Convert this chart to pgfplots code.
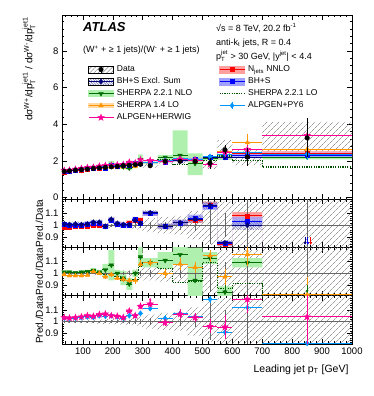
\documentclass[border=0pt]{standalone}
\usepackage{fontspec}
\setmainfont{Liberation Sans}
\usepackage{amsmath}
\usepackage{pgfplots}
\usepackage{pgfplotstable}
\pgfplotsset{compat=1.18}
\usepgfplotslibrary{fillbetween}
\usetikzlibrary{patterns.meta,arrows.meta}

\definecolor{nnlored}{RGB}{255,0,0}
\definecolor{nnloband}{RGB}{255,160,160}
\definecolor{bhsblue}{RGB}{0,0,255}
\definecolor{bhsband}{RGB}{160,160,255}
\definecolor{exclnavy}{RGB}{0,0,120}
\definecolor{nlogreen}{RGB}{0,110,0}
\definecolor{nloband}{RGB}{175,240,175}
\definecolor{sorange}{RGB}{255,150,0}
\definecolor{lodotted}{RGB}{0,80,0}
\definecolor{ahpink}{RGB}{255,0,150}
\definecolor{apblue}{RGB}{0,150,255}

\newcommand{\sups}[1]{\ensuremath{^{\text{#1}}}}
\newcommand{\subs}[1]{\ensuremath{_{\text{#1}}}}
\newcommand{\supsub}[2]{\ensuremath{^{\text{#1}}_{\text{#2}}}}
\newcommand{\ls}{\rule[-2.2pt]{0pt}{8.5pt}}

% filled five-point star
\pgfdeclareplotmark{fstar}{%
  \pgfpathmoveto{\pgfpointpolar{90}{1.3\pgfplotmarksize}}%
  \pgfpathlineto{\pgfpointpolar{126}{0.55\pgfplotmarksize}}%
  \pgfpathlineto{\pgfpointpolar{162}{1.3\pgfplotmarksize}}%
  \pgfpathlineto{\pgfpointpolar{198}{0.55\pgfplotmarksize}}%
  \pgfpathlineto{\pgfpointpolar{234}{1.3\pgfplotmarksize}}%
  \pgfpathlineto{\pgfpointpolar{270}{0.55\pgfplotmarksize}}%
  \pgfpathlineto{\pgfpointpolar{306}{1.3\pgfplotmarksize}}%
  \pgfpathlineto{\pgfpointpolar{342}{0.55\pgfplotmarksize}}%
  \pgfpathlineto{\pgfpointpolar{18}{1.3\pgfplotmarksize}}%
  \pgfpathlineto{\pgfpointpolar{54}{0.55\pgfplotmarksize}}%
  \pgfpathclose\pgfusepathqfillstroke}

% main panel: W+/W- ratio, last row only closes the step bands
\pgfplotstableread{
x xl exm exp d ds dlo dhi nn nnl nnh bh bhl bhh ex nl nll nlh s14 s14e s21 ah ahe ap ape
37.5 30 7.5 7.5 1.42 0.010 1.403 1.437 1.40 1.38 1.42 1.43 1.40 1.46 1.43 1.43 1.41 1.46 1.41 0.014 1.43 1.47 0.011 1.46 0.011
55 45 10 10 1.45 0.010 1.433 1.467 1.43 1.41 1.45 1.45 1.42 1.48 1.46 1.46 1.44 1.49 1.42 0.015 1.46 1.49 0.012 1.49 0.012
75 65 10 10 1.49 0.010 1.472 1.508 1.48 1.45 1.50 1.49 1.46 1.52 1.50 1.50 1.48 1.52 1.46 0.015 1.50 1.54 0.012 1.53 0.012
95 85 10 10 1.52 0.010 1.500 1.540 1.50 1.48 1.53 1.52 1.49 1.55 1.53 1.54 1.51 1.56 1.49 0.015 1.53 1.58 0.015 1.57 0.015
115 105 10 10 1.55 0.012 1.528 1.572 1.54 1.52 1.57 1.57 1.54 1.60 1.57 1.57 1.55 1.60 1.53 0.016 1.56 1.63 0.016 1.61 0.016
135 125 10 10 1.58 0.012 1.556 1.604 1.58 1.56 1.60 1.61 1.58 1.64 1.62 1.62 1.59 1.65 1.60 0.024 1.59 1.65 0.019 1.64 0.019
155 145 10 10 1.61 0.014 1.583 1.637 1.61 1.59 1.63 1.64 1.61 1.67 1.65 1.63 1.59 1.66 1.61 0.024 1.61 1.71 0.019 1.69 0.019
175 165 10 10 1.64 0.016 1.607 1.673 1.63 1.61 1.66 1.62 1.59 1.65 1.62 1.69 1.61 1.77 1.59 0.025 1.62 1.75 0.025 1.71 0.025
195 185 10 10 1.67 0.020 1.633 1.707 1.74 1.70 1.77 1.74 1.71 1.77 1.75 1.79 1.57 2.00 1.65 0.033 1.65 1.75 0.025 1.75 0.025
215 205 10 10 1.70 0.022 1.657 1.743 1.72 1.68 1.75 1.72 1.69 1.75 1.73 1.70 1.65 1.75 1.63 0.034 1.65 1.78 0.026 1.77 0.026
235 225 10 10 1.74 0.025 1.691 1.789 1.74 1.71 1.78 1.74 1.71 1.78 1.75 1.67 1.57 1.77 1.65 0.035 1.64 1.80 0.035 1.79 0.035
255 245 10 10 1.76 0.030 1.707 1.813 1.80 1.76 1.83 1.76 1.72 1.80 1.77 1.60 1.51 1.69 1.65 0.035 1.65 1.92 0.035 1.85 0.035
275 265 10 10 1.79 0.035 1.727 1.853 1.86 1.83 1.90 1.88 1.84 1.92 1.86 1.79 1.74 1.84 1.68 0.054 1.70 1.88 0.036 1.88 0.036
292.5 285 7.5 7.5 1.81 0.040 1.729 1.891 1.88 1.84 1.93 1.85 1.81 1.90 1.84 2.06 1.92 2.35 1.95 0.054 1.92 2.05 0.036 1.94 0.036
325 300 25 25 1.73 0.050 1.626 1.834 1.90 1.87 1.94 1.90 1.87 1.94 1.91 1.89 1.82 1.95 1.89 0.052 1.89 2.02 0.052 1.92 0.035
375 350 25 25 1.97 0.060 1.832 2.108 1.95 1.91 1.99 1.95 1.91 1.99 1.95 2.19 2.05 2.32 1.97 0.079 2.05 1.95 0.059 2.02 0.059
425 400 25 25 1.97 0.080 1.812 2.128 2.01 1.97 2.05 2.01 1.96 2.06 2.01 2.29 2.13 3.66 2.13 0.099 1.81 2.09 0.079 2.11 0.059
475 450 25 25 1.97 0.100 1.734 2.206 2.05 2.01 2.09 2.09 2.03 2.15 2.07 1.85 1.22 2.40 2.07 0.099 1.83 2.04 0.079 2.05 0.059
525 500 25 25 1.87 0.300 1.552 2.188 2.19 2.13 2.24 2.17 2.11 2.23 2.19 2.11 2.02 2.21 2.15 0.094 2.04 1.80 0.110 2.23 0.056
575 550 25 25 2.60 0.250 2.080 3.120 2.18 2.13 2.24 2.20 2.15 2.25 2.21 2.18 2.05 2.31 2.52 0.180 2.26 2.48 0.260 2.37 0.100
650 600 50 50 2.20 0.500 1.760 2.640 2.38 2.31 2.44 2.27 2.18 2.36 2.20 2.40 2.31 2.49 2.99 0.450 2.00 2.62 0.260 2.46 0.110
850 700 150 150 3.25 1.060 2.372 4.128 2.41 2.28 2.54 2.31 2.18 2.44 2.34 2.21 2.08 2.34 2.63 0.490 1.66 3.38 0.810 2.37 0.330
1000 1000 0 0 3.25 0 2.372 4.128 2.41 2.28 2.54 2.31 2.18 2.44 2.34 2.21 2.08 2.34 2.63 0 1.66 3.38 0 2.37 0
}\tmain

% ratio panels: prediction / data
\pgfplotstableread{
x xl exm exp one drs dl dh nn nnl nnh bh bhl bhh ex exl exh nl nll nlh s14 s14e s21 ah ahe ap ape
37.5 30 7.5 7.5 1 0.007 0.988 1.012 0.985 0.970 1.000 1.005 0.985 1.025 1.010 0.990 1.030 1.010 0.995 1.025 0.990 0.010 1.005 1.034 0.008 1.030 0.008
55 45 10 10 1 0.007 0.988 1.012 0.985 0.970 1.000 1.000 0.980 1.020 1.005 0.985 1.025 1.010 0.995 1.025 0.980 0.010 1.005 1.030 0.008 1.027 0.008
75 65 10 10 1 0.007 0.988 1.012 0.990 0.975 1.005 1.000 0.980 1.020 1.010 0.990 1.030 1.005 0.990 1.020 0.980 0.010 1.005 1.034 0.008 1.030 0.008
95 85 10 10 1 0.007 0.987 1.013 0.990 0.975 1.005 1.000 0.980 1.020 1.005 0.985 1.025 1.010 0.995 1.025 0.980 0.010 1.005 1.040 0.010 1.034 0.010
115 105 10 10 1 0.008 0.986 1.014 0.995 0.980 1.010 1.010 0.990 1.030 1.010 0.990 1.030 1.015 1.000 1.030 0.985 0.010 1.005 1.050 0.010 1.040 0.010
135 125 10 10 1 0.008 0.985 1.015 1.000 0.985 1.015 1.020 1.000 1.040 1.025 1.005 1.045 1.025 1.005 1.045 1.015 0.015 1.005 1.045 0.012 1.035 0.012
155 145 10 10 1 0.009 0.983 1.017 1.000 0.985 1.015 1.020 1.000 1.040 1.025 1.005 1.045 1.010 0.990 1.030 1.000 0.015 1.000 1.060 0.012 1.050 0.012
175 165 10 10 1 0.010 0.980 1.020 0.995 0.980 1.010 0.990 0.970 1.010 0.990 0.970 1.010 1.030 0.980 1.080 0.970 0.015 0.990 1.065 0.015 1.045 0.015
195 185 10 10 1 0.012 0.978 1.022 1.040 1.020 1.060 1.040 1.020 1.060 1.050 1.030 1.070 1.070 0.940 1.200 0.990 0.020 0.990 1.050 0.015 1.050 0.015
215 205 10 10 1 0.013 0.975 1.025 1.010 0.990 1.030 1.010 0.990 1.030 1.015 0.995 1.035 1.000 0.970 1.030 0.960 0.020 0.970 1.045 0.015 1.040 0.015
235 225 10 10 1 0.014 0.972 1.028 1.000 0.980 1.020 1.000 0.980 1.020 1.005 0.985 1.025 0.960 0.900 1.020 0.950 0.020 0.940 1.035 0.020 1.030 0.020
255 245 10 10 1 0.017 0.970 1.030 1.020 1.000 1.040 1.000 0.980 1.020 1.005 0.985 1.025 0.910 0.860 0.960 0.940 0.020 0.940 1.090 0.020 1.050 0.020
275 265 10 10 1 0.020 0.965 1.035 1.040 1.020 1.060 1.050 1.030 1.070 1.040 1.020 1.060 1.000 0.970 1.030 0.940 0.030 0.950 1.050 0.020 1.050 0.020
292.5 285 7.5 7.5 1 0.022 0.955 1.045 1.040 1.015 1.065 1.020 0.995 1.045 1.015 0.995 1.035 1.140 1.060 1.300 1.080 0.030 1.060 1.130 0.020 1.070 0.020
325 300 25 25 1 0.029 0.940 1.060 1.100 1.080 1.120 1.100 1.080 1.120 1.105 1.085 1.125 1.090 1.050 1.130 1.090 0.030 1.090 1.150 0.030 1.110 0.020
375 350 25 25 1 0.030 0.930 1.070 0.990 0.970 1.010 0.990 0.970 1.010 0.990 0.965 1.015 1.110 1.040 1.180 1.000 0.040 1.040 0.990 0.030 1.026 0.030
425 400 25 25 1 0.040 0.920 1.080 1.020 1.000 1.040 1.020 0.995 1.045 1.020 0.990 1.050 1.160 1.080 1.860 1.080 0.050 0.920 1.063 0.040 1.070 0.030
475 450 25 25 1 0.050 0.880 1.120 1.040 1.020 1.060 1.060 1.030 1.090 1.050 1.020 1.080 0.940 0.620 1.220 1.050 0.050 0.930 1.034 0.040 1.040 0.030
525 500 25 25 1 0.160 0.830 1.170 1.170 1.140 1.200 1.160 1.130 1.190 1.170 1.140 1.200 1.130 1.080 1.180 1.150 0.050 1.090 0.960 0.060 1.190 0.030
575 550 25 25 1 0.100 0.800 1.200 0.840 0.820 0.860 0.845 0.825 0.865 0.850 0.830 0.870 0.840 0.790 0.890 0.970 0.070 0.870 0.954 0.100 0.910 0.040
650 600 50 50 1 0.230 0.800 1.200 1.080 1.050 1.110 1.030 0.990 1.070 1.000 0.960 1.040 1.090 1.050 1.130 1.160 0.100 0.910 1.190 0.120 1.120 0.050
850 700 150 150 1 0.330 0.730 1.270 0.740 0.700 0.780 0.710 0.670 0.750 0.720 0.680 0.760 0.680 0.640 0.720 0.820 0.150 0.510 1.040 0.250 0.815 0.100
1000 1000 0 0 1 0 0.730 1.270 0.740 0.700 0.780 0.710 0.670 0.750 0.720 0.680 0.760 0.680 0.640 0.720 0.820 0 0.510 1.040 0 0.815 0
}\tratio

\pgfplotsset{
  atl/.style={scale only axis, width=290pt, xmin=30, xmax=1000,
    clip mode=individual,
    xtick={100,200,...,1000}, minor xtick={40,60,...,980},
    tick align=inside, major tick length=5pt, minor tick length=2.5pt,
    tick style={black, line width=0.5pt},
    axis line style={line width=0.6pt},
    tick label style={font=\fontsize{9.5}{11}\selectfont},
    /pgf/number format/assume math mode=true,
    /pgf/number format/1000 sep={},
    anchor=north west},
  rat/.style={atl, height=48.2pt, ymin=0.81, ymax=1.22,
    ytick={0.9,1,1.1}, yticklabels={0.9,1,1.1}, minor ytick={0.82,0.84,...,1.21}},
  pm/.style={only marks, forget plot, skip coords between index={22}{23}},
  xe/.style={error bars/.cd, x dir=both, x explicit, error mark=none, error bar style={line width=0.8pt, solid}},
  xye/.style={error bars/.cd, x dir=both, x explicit, y dir=both, y explicit, error mark=none, error bar style={line width=0.8pt, solid}},
  ye/.style={error bars/.cd, y dir=both, y explicit, error mark=none, error bar style={line width=0.7pt, solid}},
  band/.style={draw=none, const plot mark left, forget plot},
  hatch/.style={draw=none, forget plot, pattern={Lines[angle=45,distance=4pt,line width=0.45pt]}, pattern color=black!60},
}
\tikzset{rlab/.style={rotate=90, anchor=center, inner sep=0pt, font=\fontsize{10}{12}\selectfont}}

\begin{document}
\begin{tikzpicture}

%% ---------------- main panel ----------------
\begin{axis}[atl, name=main, at={(0pt,0pt)}, height=184.3pt,
  ymin=-0.1, ymax=9.95, ytick={0,2,4,6,8}, minor ytick={0,0.4,...,9.9},
  xticklabels={},
  legend style={at={(axis description cs:0.079,0.737)}, anchor=north west, draw=none, fill=none,
    font=\fontsize{8.5}{10}\selectfont, row sep=4.2pt, column sep=0pt,
    nodes={inner xsep=0pt, inner ysep=0pt}},
  legend cell align=left, legend columns=2]

% row 1
\addlegendimage{legend image code/.code={
  \fill[pattern={Lines[angle=45,distance=3pt,line width=0.45pt]}, pattern color=black!60] (0pt,-3.5pt) rectangle (25pt,3.5pt);
  \draw[black, line width=0.6pt] (12.5pt,-3.5pt) -- (12.5pt,3.5pt);
  \draw[black, mark=*, mark size=2.3pt] plot coordinates {(12.5pt,0pt)};}}
\addlegendentry{\makebox[105pt][l]{\ls\hspace{3pt}Data}}
\addlegendimage{legend image code/.code={
  \fill[nnloband] (0pt,-3.5pt) rectangle (25pt,3.5pt);
  \draw[nnlored, line width=0.8pt] (0pt,0pt) -- (25pt,0pt);
  \draw[nnlored, mark=square*, mark size=2pt] plot coordinates {(12.5pt,0pt)};}}
\addlegendentry{\ls\hspace{3pt}N\subs{jets} NNLO}
% row 2
\addlegendimage{legend image code/.code={
  \fill[pattern={Lines[angle=-45,distance=1.8pt,line width=0.4pt]}, pattern color=exclnavy!70] (0pt,-3.5pt) rectangle (25pt,3.5pt);
  \draw[exclnavy, line width=0.8pt] (0pt,0pt) -- (25pt,0pt);
  \draw[exclnavy, mark=diamond*, mark size=2.6pt] plot coordinates {(12.5pt,0pt)};}}
\addlegendentry{\makebox[105pt][l]{\ls\hspace{3pt}BH+S Excl. Sum}}
\addlegendimage{legend image code/.code={
  \fill[bhsband] (0pt,-3.5pt) rectangle (25pt,3.5pt);
  \draw[bhsblue, line width=0.8pt] (0pt,0pt) -- (25pt,0pt);
  \draw[bhsblue, mark=square*, mark size=2pt] plot coordinates {(12.5pt,0pt)};}}
\addlegendentry{\ls\hspace{3pt}BH+S}
% row 3
\addlegendimage{legend image code/.code={
  \fill[nloband] (0pt,-3pt) rectangle (25pt,3pt);
  \draw[nlogreen, line width=0.8pt] (0pt,0pt) -- (25pt,0pt);
  \draw[nlogreen, mark=triangle*, mark size=2.6pt, mark options={rotate=180}] plot coordinates {(12.5pt,0pt)};}}
\addlegendentry{\makebox[105pt][l]{\ls\hspace{3pt}SHERPA 2.2.1 NLO}}
\addlegendimage{legend image code/.code={
  \draw[lodotted, line width=1.2pt, dash pattern=on 1.2pt off 1.2pt] (0pt,0pt) -- (25pt,0pt);}}
\addlegendentry{\ls\hspace{3pt}SHERPA 2.2.1 LO}
% row 4
\addlegendimage{legend image code/.code={
  \fill[sorange!35] (0pt,-2pt) rectangle (25pt,2pt);
  \draw[sorange, line width=0.8pt] (0pt,0pt) -- (25pt,0pt);
  \draw[sorange, mark=triangle*, mark size=2.6pt] plot coordinates {(12.5pt,0pt)};}}
\addlegendentry{\makebox[105pt][l]{\ls\hspace{3pt}SHERPA 1.4 LO}}
\addlegendimage{legend image code/.code={
  \draw[apblue, line width=0.8pt] (0pt,0pt) -- (25pt,0pt);
  \draw[apblue, line width=0.8pt] (12.5pt,-3.5pt) -- (12.5pt,3.5pt);
  \draw[apblue, mark=diamond*, mark size=2.6pt] plot coordinates {(12.5pt,0pt)};}}
\addlegendentry{\ls\hspace{3pt}ALPGEN+PY6}
% row 5
\addlegendimage{legend image code/.code={
  \draw[ahpink, line width=0.8pt] (0pt,0pt) -- (25pt,0pt);
  \draw[ahpink, mark=fstar, mark size=2.6pt] plot coordinates {(12.5pt,0pt)};}}
\addlegendentry{\makebox[105pt][l]{\ls\hspace{3pt}ALPGEN+HERWIG}}

% bands
\addplot[band, name path=mdA] table[x=xl, y=dlo] {\tmain};
\addplot[band, name path=mdB] table[x=xl, y=dhi] {\tmain};
\addplot[hatch] fill between[of=mdA and mdB];
\addplot[band, name path=mgA] table[x=xl, y=nll] {\tmain};
\addplot[band, name path=mgB] table[x=xl, y=nlh] {\tmain};
\addplot[draw=none, fill=nloband, forget plot] fill between[of=mgA and mgB];
\addplot[band, name path=mrA] table[x=xl, y=nnl] {\tmain};
\addplot[band, name path=mrB] table[x=xl, y=nnh] {\tmain};
\addplot[draw=none, fill=nnloband, fill opacity=0.8, forget plot] fill between[of=mrA and mrB];
\addplot[band, name path=mbA] table[x=xl, y=bhl] {\tmain};
\addplot[band, name path=mbB] table[x=xl, y=bhh] {\tmain};
\addplot[draw=none, fill=bhsband, fill opacity=0.8, forget plot] fill between[of=mbA and mbB];
% SHERPA 2.2.1 LO step line
\addplot[lodotted, line width=1.1pt, dash pattern=on 1.2pt off 1.2pt, const plot mark left, forget plot]
  table[x=xl, y=s21] {\tmain};
% predictions
\addplot[pm, sorange, mark=triangle*, mark size=2.6pt, xye]
  table[x=x, y=s14, x error minus=exm, x error plus=exp, y error=s14e] {\tmain};
\addplot[pm, nlogreen, mark=triangle*, mark size=2.6pt, mark options={rotate=180}, xe]
  table[x=x, y=nl, x error minus=exm, x error plus=exp] {\tmain};
\addplot[pm, nnlored, mark=square*, mark size=2pt, xe]
  table[x=x, y=nn, x error minus=exm, x error plus=exp] {\tmain};
\addplot[pm, bhsblue, mark=square*, mark size=2pt, xe]
  table[x=x, y=bh, x error minus=exm, x error plus=exp] {\tmain};
\addplot[pm, exclnavy, mark=diamond*, mark size=2.6pt, xe]
  table[x=x, y=ex, x error minus=exm, x error plus=exp] {\tmain};
\addplot[pm, apblue, mark=diamond*, mark size=2.6pt, xye]
  table[x=x, y=ap, x error minus=exm, x error plus=exp, y error=ape] {\tmain};
\addplot[pm, ahpink, mark=fstar, mark size=2.6pt, xye]
  table[x=x, y=ah, x error minus=exm, x error plus=exp, y error=ahe] {\tmain};
% data
\addplot[pm, black, mark=*, mark size=2.3pt, ye]
  table[x=x, y=d, y error=ds] {\tmain};

\node[rotate=90, anchor=east, inner sep=0pt, font=\fontsize{10}{12}\selectfont]
  at (axis description cs:-0.1138,0.989) {dσ\sups{W+}/dp\supsub{jet1}{T} / dσ\sups{W-}/dp\supsub{jet1}{T}};
\node[anchor=base west, inner sep=0pt, font=\bfseries\itshape\fontsize{13}{15}\selectfont]
  at (axis description cs:0.0724,0.909) {ATLAS};
\node[anchor=base west, inner sep=0pt, font=\fontsize{9}{11}\selectfont]
  at (axis description cs:0.0724,0.794) {(W\sups{+} + ≥ 1 jets)/(W\sups{-} + ≥ 1 jets)};
\node[anchor=base west, inner sep=0pt, font=\fontsize{9}{11}\selectfont]
  at (axis description cs:0.531,0.913) {√s = 8 TeV, 20.2 fb\sups{-1}};
\node[anchor=base west, inner sep=0pt, font=\fontsize{9}{11}\selectfont]
  at (axis description cs:0.531,0.834) {anti-k\subs{t} jets, R = 0.4};
\node[anchor=base west, inner sep=0pt, font=\fontsize{9}{11}\selectfont]
  at (axis description cs:0.531,0.760) {p\supsub{jet}{T} > 30 GeV, |y\sups{jet}| < 4.4};
\end{axis}

%% ---------------- ratio 1: fixed order ----------------
\begin{axis}[rat, name=r1, at={(0pt,-184.3pt)}, xticklabels={}]
\addplot[band, name path=aA] table[x=xl, y=dl] {\tratio};
\addplot[band, name path=aB] table[x=xl, y=dh] {\tratio};
\addplot[hatch] fill between[of=aA and aB];
\addplot[band, name path=rA] table[x=xl, y=nnl] {\tratio};
\addplot[band, name path=rB] table[x=xl, y=nnh] {\tratio};
\addplot[draw=none, fill=nnloband, forget plot] fill between[of=rA and rB];
\addplot[band, name path=bA] table[x=xl, y=bhl] {\tratio};
\addplot[band, name path=bB] table[x=xl, y=bhh] {\tratio};
\addplot[draw=none, fill=bhsband, fill opacity=0.8, forget plot] fill between[of=bA and bB];
\addplot[band, name path=eA] table[x=xl, y=exl] {\tratio};
\addplot[band, name path=eB] table[x=xl, y=exh] {\tratio};
\addplot[draw=none, forget plot, pattern={Lines[angle=-45,distance=1.8pt,line width=0.4pt]}, pattern color=exclnavy!60] fill between[of=eA and eB];
\addplot[black!60, line width=0.6pt, forget plot] coordinates {(30,1) (1000,1)};
\addplot[pm, black!60, mark=*, mark size=0.01pt, ye] table[x=x, y=one, y error=drs] {\tratio};
\addplot[pm, nnlored, mark=square*, mark size=2pt, xe]
  table[x=x, y=nn, x error minus=exm, x error plus=exp] {\tratio};
\addplot[pm, bhsblue, mark=square*, mark size=2pt, xe]
  table[x=x, y=bh, x error minus=exm, x error plus=exp] {\tratio};
\addplot[pm, exclnavy, mark=diamond*, mark size=2.6pt, xe]
  table[x=x, y=ex, x error minus=exm, x error plus=exp] {\tratio};
\addplot[exclnavy, line width=0.8pt, -{Latex[length=3pt,width=3pt]}, forget plot] coordinates {(843,0.9) (843,0.83)};
\addplot[bhsblue, line width=0.8pt, -{Latex[length=3pt,width=3pt]}, forget plot] coordinates {(852,0.9) (852,0.83)};
\addplot[nnlored, line width=0.8pt, -{Latex[length=3pt,width=3pt]}, forget plot] coordinates {(862,0.9) (862,0.83)};
\node[rlab] at (axis description cs:-0.078,0.5) {Pred./Data};
\end{axis}

%% ---------------- ratio 2: SHERPA ----------------
\begin{axis}[rat, name=r2, at={(0pt,-232.5pt)}, xticklabels={}]
\addplot[band, name path=aA] table[x=xl, y=dl] {\tratio};
\addplot[band, name path=aB] table[x=xl, y=dh] {\tratio};
\addplot[hatch] fill between[of=aA and aB];
\addplot[band, name path=gA] table[x=xl, y=nll] {\tratio};
\addplot[band, name path=gB] table[x=xl, y=nlh] {\tratio};
\addplot[draw=none, fill=nloband, forget plot] fill between[of=gA and gB];
\addplot[black!60, line width=0.6pt, forget plot] coordinates {(30,1) (1000,1)};
\addplot[pm, black!60, mark=*, mark size=0.01pt, ye] table[x=x, y=one, y error=drs] {\tratio};
\addplot[lodotted, line width=1.1pt, dash pattern=on 1.2pt off 1.2pt, const plot mark left, forget plot]
  table[x=xl, y=s21] {\tratio};
\addplot[pm, nlogreen, mark=triangle*, mark size=2.6pt, mark options={rotate=180}, xe]
  table[x=x, y=nl, x error minus=exm, x error plus=exp] {\tratio};
\addplot[pm, sorange, mark=triangle*, mark size=2.6pt, xye]
  table[x=x, y=s14, x error minus=exm, x error plus=exp, y error=s14e] {\tratio};
\addplot[nlogreen, line width=0.8pt, -{Latex[length=3pt,width=3pt]}, forget plot] coordinates {(850,0.9) (850,0.83)};
\addplot[nlogreen, line width=0.8pt, -{Latex[length=3pt,width=3pt]}, forget plot] coordinates {(575,0.9) (575,0.83)};
\addplot[sorange, line width=0.8pt, -{Latex[length=3pt,width=3pt]}, forget plot] coordinates {(650,1.16) (650,1.21)};
\node[rlab] at (axis description cs:-0.078,0.5) {Pred./Data};
\end{axis}

%% ---------------- ratio 3: ALPGEN ----------------
\begin{axis}[rat, name=r3, at={(0pt,-280.7pt)},
  xlabel={Leading jet p\subs{T} [GeV]},
  xlabel style={at={(axis description cs:1,0)}, anchor=north east, yshift=-17pt, font=\fontsize{10.5}{12}\selectfont}]
\addplot[band, name path=aA] table[x=xl, y=dl] {\tratio};
\addplot[band, name path=aB] table[x=xl, y=dh] {\tratio};
\addplot[hatch] fill between[of=aA and aB];
\addplot[black!60, line width=0.6pt, forget plot] coordinates {(30,1) (1000,1)};
\addplot[pm, black!60, mark=*, mark size=0.01pt, ye] table[x=x, y=one, y error=drs] {\tratio};
\addplot[pm, apblue, mark=diamond*, mark size=2.6pt, xye]
  table[x=x, y=ap, x error minus=exm, x error plus=exp, y error=ape] {\tratio};
\addplot[pm, ahpink, mark=fstar, mark size=2.6pt, xye]
  table[x=x, y=ah, x error minus=exm, x error plus=exp, y error=ahe] {\tratio};
\addplot[ahpink, line width=0.8pt, -{Latex[length=3pt,width=3pt]}, forget plot] coordinates {(325,1.15) (325,1.205)};
\node[rlab] at (axis description cs:-0.078,0.5) {Pred./Data};
\end{axis}

\path[use as bounding box] (-62pt,15pt) rectangle (312pt,-381pt);
\end{tikzpicture}
\end{document}
